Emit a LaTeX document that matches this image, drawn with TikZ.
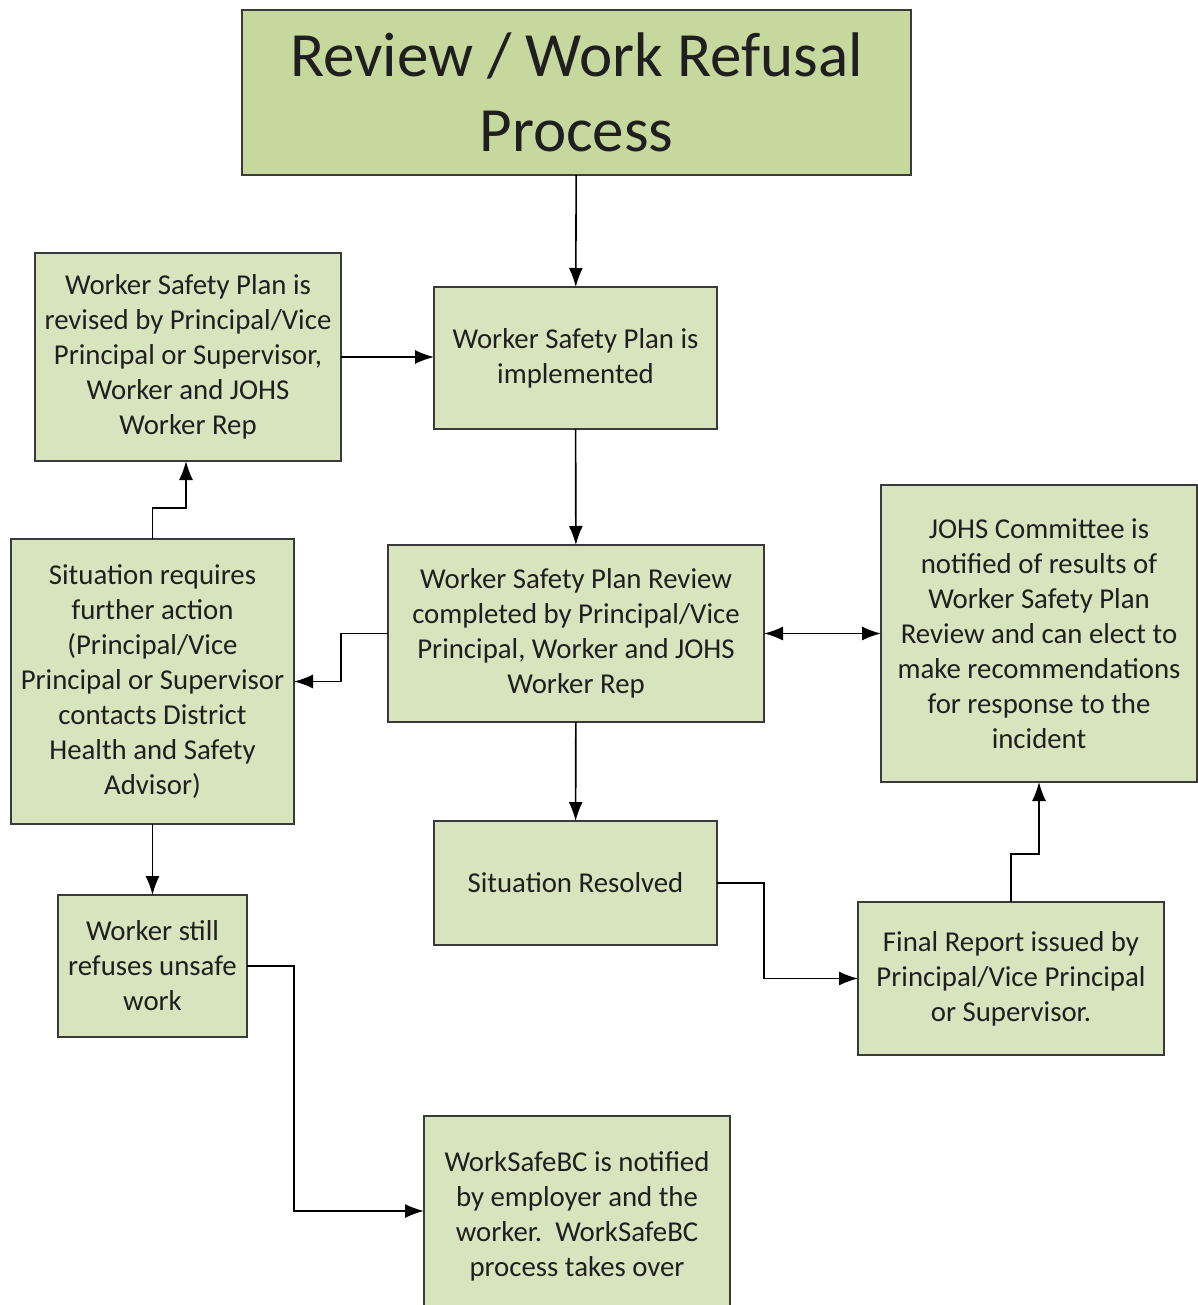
\documentclass[tikz,border=0pt]{standalone}
\usepackage{fontspec}
\setmainfont{Carlito}
\usetikzlibrary{arrows.meta}
\definecolor{boxgreen}{HTML}{D7E4BD}
\definecolor{titlegreen}{HTML}{C6D89E}
\definecolor{edgegray}{HTML}{3A3A3A}

\begin{document}
\begin{tikzpicture}[x=1pt, y=-1pt,
  box/.style={draw=edgegray, line width=2pt, fill=boxgreen, align=center, inner sep=0pt, outer sep=0pt, font=\fontsize{28.8}{35}\selectfont, text=black!88},
  titlebox/.style={box, fill=titlegreen, font=\fontsize{63}{75}\selectfont},
  conn/.style={line width=1.6pt, -{Latex[length=19pt,width=14pt]}}]
  \clip (0,0) rectangle (1198,1305);
  \node[titlebox, minimum width=669pt, minimum height=165pt] (title) at (576.5,92.5) {Review / Work Refusal\\Process};
  \node[box, minimum width=283pt, minimum height=142pt] (impl) at (575.5,358) {Worker Safety Plan is\\implemented};
  \node[box, minimum width=306pt, minimum height=208pt] (revised) at (188,357) {Worker Safety Plan is\\revised by Principal/Vice\\Principal or Supervisor,\\Worker and JOHS\\Worker Rep};
  \node[box, minimum width=376pt, minimum height=177pt] (review) at (576,633.5) {Worker Safety Plan Review\\completed by Principal/Vice\\Principal, Worker and JOHS\\Worker Rep};
  \node[box, minimum width=316pt, minimum height=297pt] (johs) at (1039,633.5) {JOHS Committee is\\notified of results of\\Worker Safety Plan\\Review and can elect to\\make recommendations\\for response to the\\incident};
  \node[box, minimum width=283pt, minimum height=285pt] (further) at (152.5,681.5) {Situation requires\\further action\\(Principal/Vice\\Principal or Supervisor\\contacts District\\Health and Safety\\Advisor)};
  \node[box, minimum width=283pt, minimum height=124pt] (resolved) at (575.5,883) {Situation Resolved};
  \node[box, minimum width=306pt, minimum height=153pt] (final) at (1011,978.5) {Final Report issued by\\Principal/Vice Principal\\or Supervisor.};
  \node[box, minimum width=189pt, minimum height=142pt] (still) at (152.5,966) {Worker still\\refuses unsafe\\work};
  \node[box, minimum width=306pt, minimum height=200pt] (worksafe) at (577,1216) {WorkSafeBC is notified\\by employer and the\\worker.\ \ WorkSafeBC\\process takes over};

  \draw[conn] (title) -- (impl);
  \draw[conn] (revised.east) -- (impl.west |- revised.east);
  \draw[conn] (impl) -- (review);
  \draw[conn] (review.west) -- ++(-47,0) |- (further.east);
  \draw[conn] (further.north) -- ++(0,-31) -| ([xshift=-2pt]revised.south);
  \draw[line width=1.6pt, {Latex[length=19pt,width=14pt]}-{Latex[length=19pt,width=14pt]}] (review.east) -- (johs.west);
  \draw[conn] (review) -- (resolved);
  \draw[conn] (further) -- (still);
  \draw[conn] (resolved.east) -- ++(47,0) |- (final.west);
  \draw[conn] (final.north) -- ++(0,-48) -| (johs.south);
  \draw[conn] (still.east) -- ++(47,0) |- (worksafe.west |- 0,1211);
\end{tikzpicture}
\end{document}
